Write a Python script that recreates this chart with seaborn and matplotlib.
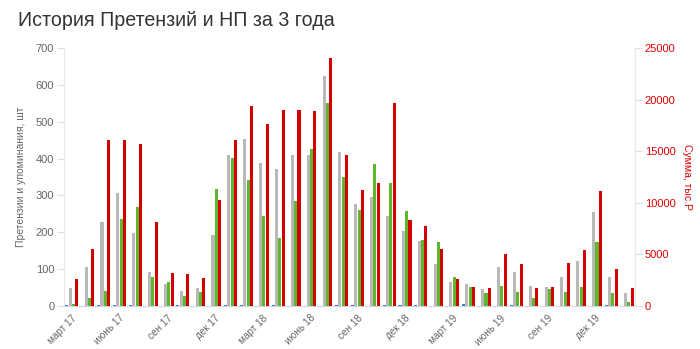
import numpy as np
import pandas as pd
import matplotlib
matplotlib.use('Agg')
import matplotlib.pyplot as plt
import seaborn as sns
from matplotlib.ticker import FixedLocator

months = ['март 17', 'апр 17', 'май 17', 'июнь 17', 'июль 17', 'авг 17', 'сен 17', 'окт 17', 'ноя 17',
          'дек 17', 'янв 18', 'фев 18', 'март 18', 'апр 18', 'май 18', 'июнь 18', 'июль 18', 'авг 18',
          'сен 18', 'окт 18', 'ноя 18', 'дек 18', 'янв 19', 'фев 19', 'март 19', 'апр 19', 'май 19',
          'июнь 19', 'июль 19', 'авг 19', 'сен 19', 'окт 19', 'ноя 19', 'дек 19', 'янв 20', 'фев 20']
tick_labels = ['март 17', 'июнь 17', 'сен 17', 'дек 17', 'март 18', 'июнь 18', 'сен 18', 'дек 18',
               'март 19', 'июнь 19', 'сен 19', 'дек 19']

blue = [2, 0, 2, 2, 2, 0, 0, 2, 0, 0, 4, 2, 0, 2, 0, 0, 0, 3, 2, 0, 3, 2, 2, 0, 0, 5, 0, 0, 2, 0, 0, 0, 0, 0, 2, 0]
grey = [48, 105, 228, 307, 199, 91, 61, 41, 48, 193, 409, 452, 388, 371, 411, 411, 624, 419, 277, 297, 245, 204,
        176, 114, 65, 61, 45, 105, 93, 54, 52, 80, 121, 254, 80, 35]
green = [5, 23, 42, 236, 269, 80, 65, 28, 39, 318, 401, 343, 245, 185, 285, 425, 550, 350, 261, 386, 335, 258,
         180, 174, 78, 52, 35, 54, 37, 21, 45, 39, 52, 174, 35, 12]
red = [2570, 5520, 16040, 16040, 15740, 8150, 3150, 3080, 2760, 10290, 16040, 19380, 17670, 19030, 19030, 18860,
       24020, 14610, 11200, 11880, 19640, 8310, 7730, 5520, 2630, 1850, 1790, 5000, 4060, 1790, 1850, 4160, 5420,
       11130, 3600, 1790]

series_order = ['blue', 'grey', 'green', 'red']
palette = {'blue': '#3f7fd0', 'grey': '#b8b8b8', 'green': '#5cb82a', 'red': '#d40000'}
zeros = [0] * len(months)

# left axis: counts (red placeholder at zero so dodge keeps 4 slots)
left_df = pd.concat([
    pd.DataFrame({'month': months, 'series': 'blue', 'value': blue}),
    pd.DataFrame({'month': months, 'series': 'grey', 'value': grey}),
    pd.DataFrame({'month': months, 'series': 'green', 'value': green}),
    pd.DataFrame({'month': months, 'series': 'red', 'value': zeros}),
])
# right axis: sums (other series placeholders at zero)
right_df = pd.concat([
    pd.DataFrame({'month': months, 'series': 'blue', 'value': zeros}),
    pd.DataFrame({'month': months, 'series': 'grey', 'value': zeros}),
    pd.DataFrame({'month': months, 'series': 'green', 'value': zeros}),
    pd.DataFrame({'month': months, 'series': 'red', 'value': red}),
])

sns.set_style('white')
plt.rcParams['font.family'] = ['Liberation Sans', 'DejaVu Sans']

fig = plt.figure(figsize=(7.0, 3.49), dpi=100)
ax = fig.add_axes([64 / 700, 43 / 349, 571 / 700, 258 / 349])
ax2 = ax.twinx()

common = dict(x='month', y='value', hue='series', order=months, hue_order=series_order,
              palette=palette, width=0.84, gap=0.08, errorbar=None, legend=False,
              saturation=1, edgecolor='white', linewidth=0)
sns.barplot(data=left_df, ax=ax, **common)
sns.barplot(data=right_df, ax=ax2, **common)

ax.set_xlim(-0.5, len(months) - 0.5)
ax.set_ylim(0, 700)
ax2.set_ylim(0, 25000)
ax.set_yticks(range(0, 701, 100))
ax2.set_yticks(range(0, 25001, 5000))

ax.set_xticks(range(0, len(months), 3))
ax.set_xticklabels(tick_labels, rotation=45, ha='right', rotation_mode='anchor',
                   fontsize=7.2, color='#666666')
ax.xaxis.set_minor_locator(FixedLocator(np.arange(-0.5, len(months), 1)))
ax.tick_params(axis='x', which='major', length=0, pad=5)
ax.tick_params(axis='x', which='minor', length=5, color='#ccd6eb', width=0.8)
ax.tick_params(axis='y', length=5, color='#e0e0e0', labelcolor='#666666', labelsize=8, pad=2)
ax2.tick_params(axis='y', length=5, color='#e0e0e0', labelcolor='#dd0000', labelsize=8, pad=2)
ax.set_xlabel('')
ax2.set_xlabel('')

ax.set_ylabel('Претензии и упоминания, шт', fontsize=7.5, color='#666666', labelpad=7)
ax2.set_ylabel('Сумма, тыс.Р', fontsize=7.5, color='#dd0000', rotation=-90, labelpad=12)

for a in (ax, ax2):
    a.grid(False)
    a.spines['top'].set_visible(False)
ax.spines['right'].set_visible(False)
ax.spines['left'].set_color('#e6e6e6')
ax.spines['bottom'].set_color('#ccd6eb')
ax2.spines['left'].set_visible(False)
ax2.spines['bottom'].set_visible(False)
ax2.spines['right'].set_color('#e6e6e6')

fig.text(18 / 700, 1 - 21 / 349, 'История Претензий и НП за 3 года', fontsize=14.1,
         color='#333333', va='center', ha='left')

fig.savefig('out.png', dpi=100)
